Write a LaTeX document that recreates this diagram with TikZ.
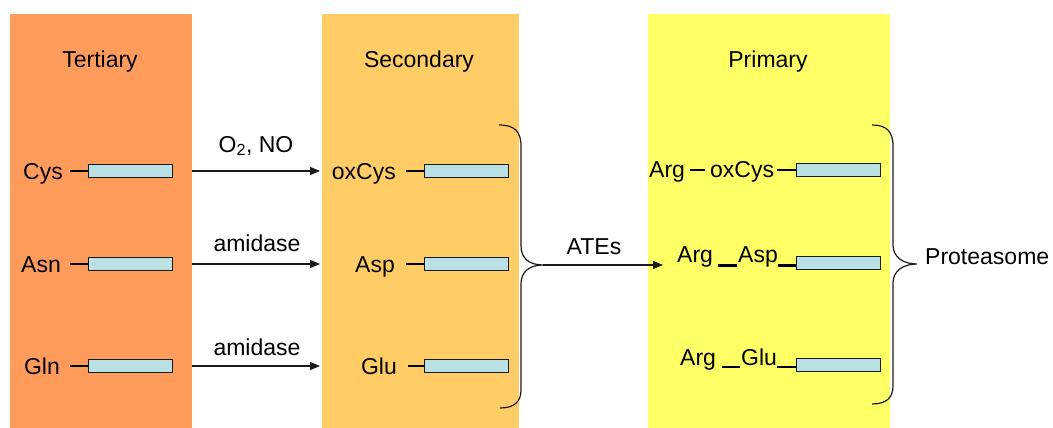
\documentclass[tikz,border=0pt]{standalone}
\usepackage{fontspec}
\setmainfont{Liberation Sans}
\usetikzlibrary{arrows.meta}
\definecolor{tertc}{HTML}{FF9C5C}
\definecolor{secc}{HTML}{FFCC66}
\definecolor{primc}{HTML}{FFFF66}
\definecolor{boxc}{HTML}{B9E0E2}
\definecolor{inkc}{HTML}{1A1A1A}
\begin{document}
\begin{tikzpicture}[x=1pt,y=-1pt,
  font=\fontsize{23}{27}\selectfont,
  panel/.style={draw=none, inner sep=0, anchor=north west, minimum height=414pt},
  pbox/.style={draw=inkc, fill=boxc, line width=1pt, minimum width=84pt, minimum height=13pt, inner sep=0},
  lbl/.style={inner sep=0, text=black},
  lead/.style={draw=black, line width=2.2pt},
  arr/.style={draw=inkc, line width=1.1pt, -{Triangle[length=10pt,width=8pt]}},
  brace/.style={draw=inkc, line width=1.2pt}]
\useasboundingbox (0,0) rectangle (1053,428);

% panels
\node[panel, fill=tertc, minimum width=182pt] (tert) at (10,14) {};
\node[panel, fill=secc, minimum width=197pt] (sec) at (322,14) {};
\node[panel, fill=primc, minimum width=242pt] (prim) at (648,14) {};

% titles
\node[lbl, anchor=base] (ttl1) at (100,68) {Tertiary};
\node[lbl, anchor=base] (ttl2) at (419,68) {Secondary};
\node[lbl, anchor=base] (ttl3) at (768,68) {Primary};

% tertiary rows
\node[lbl, anchor=base east] (cys) at (63,179) {Cys};
\node[lbl, anchor=base east] (asn) at (61,272) {Asn};
\node[lbl, anchor=base east] (gln) at (60,374) {Gln};
\node[pbox] (tb1) at (130,171) {};
\node[pbox] (tb2) at (130,264) {};
\node[pbox] (tb3) at (130,366) {};
\draw[lead, shorten >=7pt] (tb1.west) -- (tb1.west -| cys.east);
\draw[lead, shorten >=9pt] (tb2.west) -- (tb2.west -| asn.east);
\draw[lead, shorten >=10pt] (tb3.west) -- (tb3.west -| gln.east);

% secondary rows
\node[lbl, anchor=base east] (oxc) at (396,179) {oxCys};
\node[lbl, anchor=base east] (asp) at (395,272) {Asp};
\node[lbl, anchor=base east] (glu) at (397,374) {Glu};
\node[pbox] (sb1) at (466,171) {};
\node[pbox] (sb2) at (466,264) {};
\node[pbox] (sb3) at (466,366) {};
\draw[lead, shorten >=10pt] (sb1.west) -- (sb1.west -| oxc.east);
\draw[lead, shorten >=11pt] (sb2.west) -- (sb2.west -| asp.east);
\draw[lead, shorten >=11pt] (sb3.west) -- (sb3.west -| glu.east);

% arrows tertiary -> secondary
\draw[arr, shorten >=2pt] (tb1 -| tert.east) -- (tb1 -| sec.west);
\draw[arr, shorten >=2pt] (tb2 -| tert.east) -- (tb2 -| sec.west);
\draw[arr, shorten >=2pt] (tb3 -| tert.east) -- (tb3 -| sec.west);
\node[lbl, anchor=base] (o2) at (256,152) {O\textsubscript{2}, NO};
\node[lbl, anchor=base] (am1) at (257,251) {amidase};
\node[lbl, anchor=base] (am2) at (257,355) {amidase};

% brace 1 and ATEs arrow
\coordinate (b1tip) at (543,265);
\coordinate (atesend) at (663,265);
\draw[brace] (499,125) .. controls (514,125) and (521,131) .. (521,146) -- (521,246)
  .. controls (521,258) and (529,265) .. (b1tip)
  .. controls (529,265) and (521,272) .. (521,284) -- (521,390)
  .. controls (521,402) and (514,408) .. (500,408);
\draw[arr] (b1tip) -- (atesend);
\node[lbl, anchor=base] (ates) at (594,254) {ATEs};

% primary rows
\node[pbox] (pb1) at (838,170) {};
\node[pbox] (pb2) at (838,263) {};
\node[pbox] (pb3) at (838,365) {};
\node[lbl, anchor=base west] (arg1) at (649,177) {Arg};
\node[lbl, anchor=base west] (ox1) at (710,177) {oxCys};
\draw[lead, shorten <=5pt, shorten >=5pt] (arg1.east |- pb1.west) -- (ox1.west |- pb1.west);
\draw[lead, shorten <=3pt] (ox1.east |- pb1.west) -- (pb1.west);

\node[lbl, anchor=base west] (arg2) at (677,262) {Arg};
\node[lbl, anchor=base west] (asp2) at (738,262) {Asp};
\path ([yshift=-3.5pt]arg2.base east) coordinate (a2e)
      ([yshift=-3.5pt]asp2.base west) coordinate (s2w)
      ([yshift=-3.5pt]asp2.base east) coordinate (s2e);
\draw[lead, shorten <=5pt, shorten >=1pt] (a2e) -- (s2w);
\draw[lead] (s2e) -- (s2e -| pb2.west);

\node[lbl, anchor=base west] (arg3) at (680,365) {Arg};
\node[lbl, anchor=base west] (glu3) at (741,365) {Glu};
\path ([yshift=-2pt]arg3.base east) coordinate (a3e)
      ([yshift=-2pt]glu3.base west) coordinate (g3w)
      ([yshift=-2pt]glu3.base east) coordinate (g3e);
\draw[lead, shorten <=6pt, shorten >=1pt] (a3e) -- (g3w);
\draw[lead] (g3e) -- (g3e -| pb3.west);

% brace 2
\coordinate (b2tip) at (917,264);
\draw[brace] (872,125) .. controls (886,125) and (893,131) .. (893,146) -- (893,245)
  .. controls (893,257) and (903,264) .. (b2tip)
  .. controls (903,264) and (893,271) .. (893,283) -- (893,386)
  .. controls (893,398) and (886,404) .. (872,404);
\node[lbl, anchor=base west] (prot) at (925,264) {Proteasome};
\end{tikzpicture}
\end{document}
